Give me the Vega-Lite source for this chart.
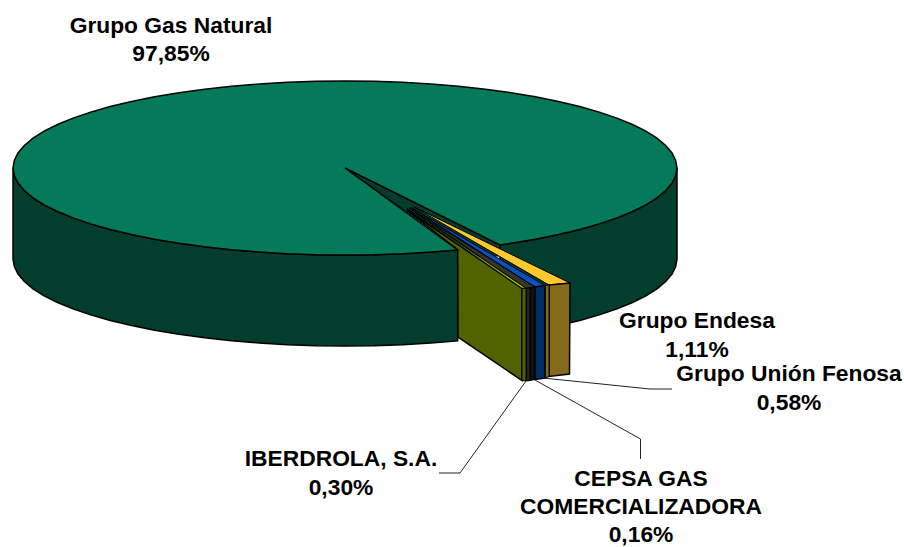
{"$schema":"https://vega.github.io/schema/vega-lite/v6.json","width":904,"height":547,"padding":0,"autosize":{"type":"none"},"background":"white","config":{"view":{"stroke":null}},
"datasets":{
"wallLeft":[{"x":13,"y":168},{"x":14.3,"y":175.6},{"x":18,"y":183.1},{"x":24.3,"y":190.5},{"x":33,"y":197.8},{"x":44.1,"y":204.8},{"x":57.5,"y":211.5},{"x":73,"y":217.9},{"x":90.7,"y":223.9},{"x":110.2,"y":229.5},{"x":131.6,"y":234.6},{"x":154.6,"y":239.3},{"x":179,"y":243.3},{"x":204.7,"y":246.8},{"x":231.5,"y":249.8},{"x":259.1,"y":252},{"x":287.4,"y":253.7},{"x":316,"y":254.7},{"x":345,"y":255},{"x":374,"y":254.7},{"x":402.6,"y":253.7},{"x":430.9,"y":252},{"x":457.7,"y":249.9},{"x":457.7,"y":340.9},{"x":430.9,"y":343},{"x":402.6,"y":344.7},{"x":374,"y":345.7},{"x":345,"y":346},{"x":316,"y":345.7},{"x":287.4,"y":344.7},{"x":259.1,"y":343},{"x":231.5,"y":340.8},{"x":204.7,"y":337.8},{"x":179,"y":334.3},{"x":154.6,"y":330.3},{"x":131.6,"y":325.6},{"x":110.2,"y":320.5},{"x":90.7,"y":314.9},{"x":73,"y":308.9},{"x":57.5,"y":302.5},{"x":44.1,"y":295.8},{"x":33,"y":288.8},{"x":24.3,"y":281.5},{"x":18,"y":274.1},{"x":14.3,"y":266.6},{"x":13,"y":259},{"x":13,"y":168}],
"wallRight":[{"x":500,"y":244.9},{"x":511,"y":243.3},{"x":535.4,"y":239.3},{"x":558.4,"y":234.6},{"x":579.8,"y":229.5},{"x":599.3,"y":223.9},{"x":617,"y":217.9},{"x":632.5,"y":211.5},{"x":645.9,"y":204.8},{"x":657,"y":197.8},{"x":665.7,"y":190.5},{"x":672,"y":183.1},{"x":675.7,"y":175.6},{"x":677,"y":168},{"x":677,"y":259},{"x":675.7,"y":266.6},{"x":672,"y":274.1},{"x":665.7,"y":281.5},{"x":657,"y":288.8},{"x":645.9,"y":295.8},{"x":632.5,"y":302.5},{"x":617,"y":308.9},{"x":599.3,"y":314.9},{"x":579.8,"y":320.5},{"x":558.4,"y":325.6},{"x":535.4,"y":330.3},{"x":500,"y":335},{"x":500,"y":244.9}],
"notch":[{"x":345,"y":168},{"x":500,"y":244.9},{"x":500,"y":256},{"x":470,"y":256},{"x":407,"y":212},{"x":345,"y":168}],
"oliveWall":[{"x":407,"y":210},{"x":522,"y":288.3},{"x":522,"y":380.5},{"x":458,"y":337},{"x":457.7,"y":249.9},{"x":407,"y":210}],
"disc":[{"x":345,"y":168},{"x":500,"y":244.9},{"x":511,"y":243.3},{"x":535.4,"y":239.3},{"x":558.4,"y":234.6},{"x":579.8,"y":229.5},{"x":599.3,"y":223.9},{"x":617,"y":217.9},{"x":632.5,"y":211.5},{"x":645.9,"y":204.8},{"x":657,"y":197.8},{"x":665.7,"y":190.5},{"x":672,"y":183.1},{"x":675.7,"y":175.6},{"x":677,"y":168},{"x":675.7,"y":160.4},{"x":672,"y":152.9},{"x":665.7,"y":145.5},{"x":657,"y":138.2},{"x":645.9,"y":131.2},{"x":632.5,"y":124.5},{"x":617,"y":118.1},{"x":599.3,"y":112.1},{"x":579.8,"y":106.5},{"x":558.4,"y":101.4},{"x":535.4,"y":96.7},{"x":511,"y":92.7},{"x":485.3,"y":89.2},{"x":458.5,"y":86.2},{"x":430.9,"y":84},{"x":402.6,"y":82.3},{"x":374,"y":81.3},{"x":345,"y":81},{"x":316,"y":81.3},{"x":287.4,"y":82.3},{"x":259.1,"y":84},{"x":231.5,"y":86.2},{"x":204.7,"y":89.2},{"x":179,"y":92.7},{"x":154.6,"y":96.7},{"x":131.6,"y":101.4},{"x":110.2,"y":106.5},{"x":90.7,"y":112.1},{"x":73,"y":118.1},{"x":57.5,"y":124.5},{"x":44.1,"y":131.2},{"x":33,"y":138.2},{"x":24.3,"y":145.5},{"x":18,"y":152.9},{"x":14.3,"y":160.4},{"x":13,"y":168},{"x":14.3,"y":175.6},{"x":18,"y":183.1},{"x":24.3,"y":190.5},{"x":33,"y":197.8},{"x":44.1,"y":204.8},{"x":57.5,"y":211.5},{"x":73,"y":217.9},{"x":90.7,"y":223.9},{"x":110.2,"y":229.5},{"x":131.6,"y":234.6},{"x":154.6,"y":239.3},{"x":179,"y":243.3},{"x":204.7,"y":246.8},{"x":231.5,"y":249.8},{"x":259.1,"y":252},{"x":287.4,"y":253.7},{"x":316,"y":254.7},{"x":345,"y":255},{"x":374,"y":254.7},{"x":402.6,"y":253.7},{"x":430.9,"y":252},{"x":457.7,"y":249.9},{"x":345,"y":168}],
"goldFront":[{"x":549,"y":285},{"x":570,"y":283},{"x":569.5,"y":374},{"x":549,"y":376.5},{"x":549,"y":285}],
"goldSide":[{"x":545,"y":285.5},{"x":549,"y":285},{"x":549,"y":376.5},{"x":545,"y":378},{"x":545,"y":285.5}],
"blueFront":[{"x":535,"y":287},{"x":545,"y":285.5},{"x":545,"y":378},{"x":535,"y":379.5},{"x":535,"y":287}],
"darkFront":[{"x":530,"y":288},{"x":535,"y":287},{"x":535,"y":379.5},{"x":530,"y":380.5},{"x":530,"y":288}],
"greyFront":[{"x":526,"y":288.3},{"x":530,"y":288},{"x":530,"y":380.5},{"x":526,"y":381},{"x":526,"y":288.3}],
"oliveFront":[{"x":522,"y":288.3},{"x":526,"y":288.3},{"x":526,"y":381},{"x":522,"y":380.5},{"x":522,"y":288.3}],
"goldTop":[{"x":414,"y":207},{"x":570,"y":283},{"x":549,"y":285},{"x":414,"y":207}],
"blueTop":[{"x":411,"y":207.5},{"x":545,"y":285.5},{"x":535,"y":287},{"x":411,"y":207.5}],
"darkTop":[{"x":409,"y":208},{"x":535,"y":287},{"x":526,"y":288.3},{"x":409,"y":208}],
"oliveTop":[{"x":407,"y":208.5},{"x":526,"y":288.3},{"x":522,"y":288.3},{"x":407,"y":208.5}],
"leaderFenosa":[{"x":543,"y":378},{"x":650,"y":389},{"x":672,"y":389}],
"leaderCepsa":[{"x":535,"y":380},{"x":640.5,"y":439},{"x":640.5,"y":459}],
"leaderIberdrola":[{"x":526,"y":381},{"x":460,"y":473},{"x":439,"y":473}],
"labels":[{"label":"Grupo Gas Natural","x":171,"y":26},{"label":"97,85%","x":171,"y":54},{"label":"Grupo Endesa","x":697,"y":321},{"label":"1,11%","x":697,"y":350},{"label":"Grupo Unión Fenosa","x":789,"y":374},{"label":"0,58%","x":789,"y":403},{"label":"IBERDROLA, S.A.","x":341,"y":459},{"label":"0,30%","x":341,"y":488},{"label":"CEPSA GAS","x":641,"y":479},{"label":"COMERCIALIZADORA","x":641,"y":507},{"label":"0,16%","x":641,"y":535}]
},
"encoding":{
"x":{"field":"x","type":"quantitative","scale":{"domain":[0,904],"range":[0,904],"nice":false,"zero":false},"axis":null},
"y":{"field":"y","type":"quantitative","scale":{"domain":[0,547],"range":[0,547],"nice":false,"zero":false},"axis":null}
},
"layer":[
{"data":{"name":"wallLeft"},"transform":[{"window":[{"op":"row_number","as":"i"}]}],"mark":{"type":"line","fill":"#033d2d","stroke":"#000","strokeWidth":1.5},"encoding":{"order":{"field":"i","type":"quantitative"}}},
{"data":{"name":"wallRight"},"transform":[{"window":[{"op":"row_number","as":"i"}]}],"mark":{"type":"line","fill":"#033d2d","stroke":"#000","strokeWidth":1.5},"encoding":{"order":{"field":"i","type":"quantitative"}}},
{"data":{"name":"notch"},"transform":[{"window":[{"op":"row_number","as":"i"}]}],"mark":{"type":"line","fill":"#033d2d","stroke":"#000","strokeWidth":1},"encoding":{"order":{"field":"i","type":"quantitative"}}},
{"data":{"name":"oliveWall"},"transform":[{"window":[{"op":"row_number","as":"i"}]}],"mark":{"type":"line","fill":"#4f6400","stroke":"#000","strokeWidth":1.5},"encoding":{"order":{"field":"i","type":"quantitative"}}},
{"data":{"name":"disc"},"transform":[{"window":[{"op":"row_number","as":"i"}]}],"mark":{"type":"line","fill":"#047a5a","stroke":"#000","strokeWidth":1.5},"encoding":{"order":{"field":"i","type":"quantitative"}}},
{"data":{"name":"goldTop"},"transform":[{"window":[{"op":"row_number","as":"i"}]}],"mark":{"type":"line","fill":"#ffc82d","stroke":"#000","strokeWidth":1},"encoding":{"order":{"field":"i","type":"quantitative"}}},
{"data":{"name":"blueTop"},"transform":[{"window":[{"op":"row_number","as":"i"}]}],"mark":{"type":"line","fill":"#0a50c0","stroke":"#000","strokeWidth":1},"encoding":{"order":{"field":"i","type":"quantitative"}}},
{"data":{"name":"darkTop"},"transform":[{"window":[{"op":"row_number","as":"i"}]}],"mark":{"type":"line","fill":"#333333","stroke":"#000","strokeWidth":1},"encoding":{"order":{"field":"i","type":"quantitative"}}},
{"data":{"name":"oliveTop"},"transform":[{"window":[{"op":"row_number","as":"i"}]}],"mark":{"type":"line","fill":"#a0c800","stroke":"#000","strokeWidth":0.8},"encoding":{"order":{"field":"i","type":"quantitative"}}},
{"data":{"name":"goldFront"},"transform":[{"window":[{"op":"row_number","as":"i"}]}],"mark":{"type":"line","fill":"#866a1c","stroke":"#000","strokeWidth":1.5},"encoding":{"order":{"field":"i","type":"quantitative"}}},
{"data":{"name":"goldSide"},"transform":[{"window":[{"op":"row_number","as":"i"}]}],"mark":{"type":"line","fill":"#866a1c","stroke":"#000","strokeWidth":1},"encoding":{"order":{"field":"i","type":"quantitative"}}},
{"data":{"name":"blueFront"},"transform":[{"window":[{"op":"row_number","as":"i"}]}],"mark":{"type":"line","fill":"#002d63","stroke":"#000","strokeWidth":1.5},"encoding":{"order":{"field":"i","type":"quantitative"}}},
{"data":{"name":"darkFront"},"transform":[{"window":[{"op":"row_number","as":"i"}]}],"mark":{"type":"line","fill":"#111111","stroke":"#000","strokeWidth":1},"encoding":{"order":{"field":"i","type":"quantitative"}}},
{"data":{"name":"greyFront"},"transform":[{"window":[{"op":"row_number","as":"i"}]}],"mark":{"type":"line","fill":"#222222","stroke":"#000","strokeWidth":1},"encoding":{"order":{"field":"i","type":"quantitative"}}},
{"data":{"name":"oliveFront"},"transform":[{"window":[{"op":"row_number","as":"i"}]}],"mark":{"type":"line","fill":"#4f6400","stroke":"#000","strokeWidth":1},"encoding":{"order":{"field":"i","type":"quantitative"}}},
{"data":{"name":"leaderFenosa"},"transform":[{"window":[{"op":"row_number","as":"i"}]}],"mark":{"type":"line","stroke":"#222","strokeWidth":1},"encoding":{"order":{"field":"i","type":"quantitative"}}},
{"data":{"name":"leaderCepsa"},"transform":[{"window":[{"op":"row_number","as":"i"}]}],"mark":{"type":"line","stroke":"#222","strokeWidth":1},"encoding":{"order":{"field":"i","type":"quantitative"}}},
{"data":{"name":"leaderIberdrola"},"transform":[{"window":[{"op":"row_number","as":"i"}]}],"mark":{"type":"line","stroke":"#222","strokeWidth":1},"encoding":{"order":{"field":"i","type":"quantitative"}}},
{"data":{"name":"labels"},"mark":{"type":"text","font":"Liberation Sans","fontWeight":"bold","fontSize":22.8,"align":"center","baseline":"middle","color":"#000"},"encoding":{"text":{"field":"label","type":"nominal"}}}
]}
